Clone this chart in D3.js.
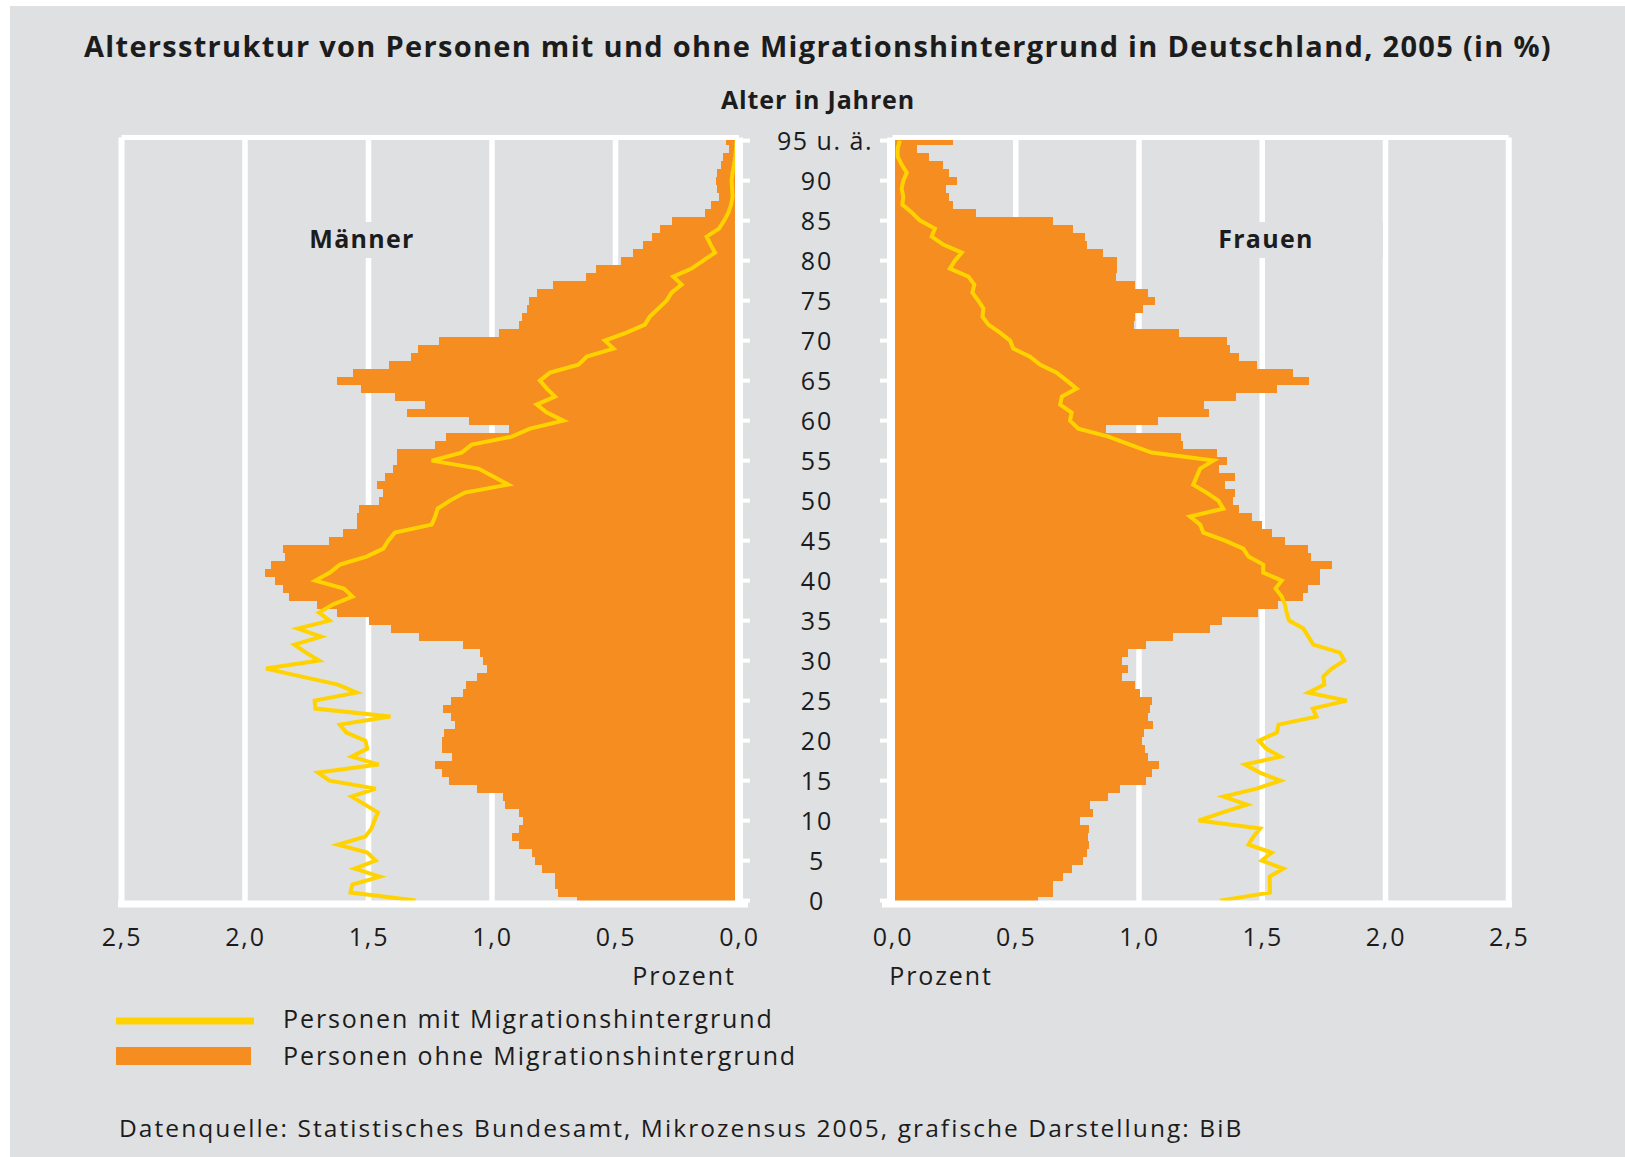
<!DOCTYPE html>
<html>
<head>
<meta charset="utf-8">
<script src="https://cdn.jsdelivr.net/npm/d3@7"></script>
<style>
    body { margin: 0; background: #ffffff; }
    svg text { font-family: "Open Sans", sans-serif; fill: #1c1c1c; }
</style>
</head>
<body>
<div id="chart"></div>
<script>
/* * * * * * * * * * * * * * * * * * *
*  ALTERSPYRAMIDE MIT/OHNE MIGRATION  *
* * * * * * * * * * * * * * * * * * */

// ages 0 .. 95 (95 = "95 u. ä."), values in percent
const ages = d3.range(0, 96);

const menOhne = [
    0.654, 0.734, 0.745, 0.745, 0.799, 0.824, 0.840, 0.890, 0.921, 0.890,
    0.874, 0.890, 0.948, 0.955, 1.061, 1.174, 1.204, 1.231, 1.160, 1.204,
    1.201, 1.195, 1.150, 1.164, 1.198, 1.164, 1.117, 1.106, 1.061, 1.020,
    1.036, 1.047, 1.119, 1.294, 1.409, 1.497, 1.629, 1.707, 1.821, 1.845,
    1.879, 1.919, 1.895, 1.838, 1.845, 1.659, 1.602, 1.548, 1.548, 1.538,
    1.457, 1.443, 1.464, 1.432, 1.401, 1.386, 1.386, 1.231, 1.188, 0.930,
    1.093, 1.346, 1.271, 1.393, 1.530, 1.628, 1.561, 1.417, 1.328, 1.301,
    1.213, 0.972, 0.889, 0.880, 0.860, 0.850, 0.816, 0.752, 0.621, 0.580,
    0.478, 0.428, 0.387, 0.354, 0.320, 0.270, 0.138, 0.113, 0.081, 0.088,
    0.094, 0.088, 0.073, 0.063, 0.040, 0.054
];

const menMit = [
    1.309, 1.573, 1.565, 1.454, 1.556, 1.471, 1.505, 1.624, 1.513, 1.488,
    1.476, 1.462, 1.514, 1.568, 1.471, 1.658, 1.704, 1.459, 1.568, 1.505,
    1.513, 1.590, 1.616, 1.411, 1.715, 1.718, 1.548, 1.624, 1.770, 1.915,
    1.700, 1.753, 1.800, 1.692, 1.786, 1.658, 1.700, 1.645, 1.565, 1.600,
    1.715, 1.656, 1.616, 1.508, 1.440, 1.420, 1.393, 1.244, 1.230, 1.220,
    1.170, 1.110, 0.934, 0.995, 1.055, 1.244, 1.123, 1.082, 0.920, 0.846,
    0.711, 0.778, 0.819, 0.745, 0.778, 0.806, 0.765, 0.650, 0.616, 0.508,
    0.543, 0.455, 0.381, 0.361, 0.327, 0.293, 0.273, 0.232, 0.266, 0.192,
    0.145, 0.097, 0.115, 0.131, 0.081, 0.060, 0.043, 0.032, 0.026, 0.028,
    0.030, 0.026, 0.020, 0.015, 0.012, 0.010
];

const womenOhne = [
    0.589, 0.652, 0.652, 0.693, 0.727, 0.774, 0.788, 0.797, 0.792, 0.797,
    0.761, 0.815, 0.801, 0.873, 0.923, 1.027, 1.051, 1.082, 1.035, 1.024,
    1.013, 1.022, 1.058, 1.038, 1.045, 1.051, 1.004, 0.984, 0.930, 0.954,
    0.930, 0.954, 1.027, 1.139, 1.288, 1.335, 1.481, 1.563, 1.667, 1.684,
    1.734, 1.734, 1.782, 1.698, 1.684, 1.592, 1.538, 1.498, 1.457, 1.407,
    1.382, 1.389, 1.349, 1.389, 1.326, 1.358, 1.318, 1.180, 1.171, 0.865,
    1.076, 1.284, 1.265, 1.393, 1.561, 1.691, 1.626, 1.480, 1.407, 1.369,
    1.358, 1.164, 0.981, 0.984, 1.018, 1.065, 1.035, 0.984, 0.905, 0.912,
    0.912, 0.855, 0.788, 0.781, 0.734, 0.653, 0.337, 0.247, 0.229, 0.216,
    0.263, 0.229, 0.206, 0.148, 0.101, 0.247
];

const womenMit = [
    1.329, 1.531, 1.531, 1.530, 1.585, 1.498, 1.538, 1.444, 1.464, 1.491,
    1.242, 1.336, 1.438, 1.343, 1.478, 1.574, 1.490, 1.430, 1.574, 1.516,
    1.486, 1.559, 1.566, 1.720, 1.705, 1.843, 1.687, 1.752, 1.748, 1.782,
    1.833, 1.815, 1.707, 1.687, 1.667, 1.609, 1.599, 1.592, 1.579, 1.554,
    1.579, 1.504, 1.504, 1.444, 1.423, 1.349, 1.261, 1.248, 1.207, 1.342,
    1.322, 1.274, 1.220, 1.234, 1.248, 1.302, 1.051, 0.963, 0.876, 0.754,
    0.720, 0.727, 0.680, 0.687, 0.747, 0.707, 0.666, 0.598, 0.558, 0.490,
    0.477, 0.436, 0.389, 0.365, 0.369, 0.348, 0.324, 0.332, 0.308, 0.233,
    0.253, 0.281, 0.206, 0.159, 0.172, 0.112, 0.078, 0.040, 0.044, 0.037,
    0.044, 0.058, 0.037, 0.021, 0.021, 0.030
];

const valueTicks = [0, 0.5, 1, 1.5, 2, 2.5];
const gridValues = [0.5, 1, 1.5, 2];
const ageTicks = d3.range(0, 96, 5);
const ageTickLabels = ageTicks.map(a => a === 95 ? "95 u. ä." : String(a));

const colors = { bg: "#dfe0e2", ohne: "#f58d20", mit: "#ffd200", grid: "#ffffff" };

// regular text settings (the original face is wide and loosely spaced)
const txt = { size: 25, spacing: 1.9 };

const de = d3.formatLocale({ decimal: ",", thousands: ".", grouping: [3], currency: ["", " €"] });
const fmt = de.format(".1f");

// shared age scale (one band per year, 95 at the top)
const y = d3.scaleBand()
    .domain(d3.range(95, -1, -1))
    .range([136.6, 904.6]);

const svg = d3.select("#chart")
    .append("svg")
    .attr("width", 1625)
    .attr("height", 1157);

svg.append("rect")
    .attr("x", 10).attr("y", 6)
    .attr("width", 1615).attr("height", 1151)
    .attr("fill", colors.bg);


class PyramidHalf {
    constructor(parent, config) {
        this.parent = parent;
        this.config = config;

        this.initVis();
    }

    initVis() {
        let vis = this;
        const c = vis.config;

        vis.top = 137.5;
        vis.bottom = 904;

        vis.x = d3.scaleLinear()
            .domain([0, 2.5])
            .range(c.range);

        vis.g = vis.parent.append("g")
            .attr("class", `half ${c.side}`);

        // white gridlines (behind the bars)
        vis.g.append("g")
            .attr("class", "grid")
            .selectAll("line")
            .data(gridValues)
            .join("line")
            .attr("x1", d => vis.x(d))
            .attr("x2", d => vis.x(d))
            .attr("y1", vis.top)
            .attr("y2", vis.bottom)
            .attr("stroke", colors.grid)
            .attr("stroke-width", 5.5);

        // panel label with a background patch over the grid
        vis.g.append("rect")
            .attr("x", c.labelBox[0])
            .attr("y", 222)
            .attr("width", c.labelBox[1] - c.labelBox[0])
            .attr("height", 36)
            .attr("fill", colors.bg);

        vis.g.append("text")
            .attr("x", c.labelX)
            .attr("y", 248)
            .attr("text-anchor", "middle")
            .attr("font-size", 25)
            .attr("font-weight", 700)
            .attr("letter-spacing", 1.3)
            .text(c.label);

        vis.updateVis();
    }

    updateVis() {
        let vis = this;
        const c = vis.config;
        const zero = vis.x(0);

        // bars: persons without migration background
        vis.g.append("g")
            .attr("class", "bars")
            .selectAll("rect")
            .data(ages)
            .join("rect")
            .attr("x", d => Math.min(zero, vis.x(c.ohne[d])))
            .attr("width", d => Math.abs(vis.x(c.ohne[d]) - zero))
            .attr("y", d => y(d))
            .attr("height", y.bandwidth())
            .attr("fill", colors.ohne)
            .attr("shape-rendering", "crispEdges");

        // line: persons with migration background
        const line = d3.line()
            .x(d => vis.x(c.mit[d]))
            .y(d => y(d) + y.bandwidth() / 2);

        vis.g.append("path")
            .datum(ages)
            .attr("class", "mit-line")
            .attr("d", line)
            .attr("fill", "none")
            .attr("stroke", colors.mit)
            .attr("stroke-width", 4)
            .attr("stroke-linejoin", "miter");

        // frame
        const far = vis.x(2.5);
        const frame = vis.g.append("g").attr("class", "frame")
            .attr("stroke", colors.grid);

        frame.append("line")
            .attr("x1", far).attr("x2", zero)
            .attr("y1", vis.top).attr("y2", vis.top)
            .attr("stroke-width", 5);

        frame.append("line")
            .attr("x1", far).attr("x2", far)
            .attr("y1", vis.top).attr("y2", vis.bottom)
            .attr("stroke-width", 6);

        frame.append("line")
            .attr("x1", c.bottomLine[0]).attr("x2", c.bottomLine[1])
            .attr("y1", vis.bottom).attr("y2", vis.bottom)
            .attr("stroke-width", 7);

        frame.append("line")
            .attr("x1", c.axisX).attr("x2", c.axisX)
            .attr("y1", vis.top).attr("y2", vis.bottom)
            .attr("stroke-width", 8);

        // age ticks pointing to the centre
        const ageAxis = (c.side === "left" ? d3.axisRight(y) : d3.axisLeft(y))
            .tickValues(ageTicks)
            .tickSize(11)
            .tickFormat("");

        vis.g.append("g")
            .attr("class", "age-ticks")
            .attr("transform", `translate(${c.axisX}, 0)`)
            .call(ageAxis)
            .call(g => g.select(".domain").remove())
            .selectAll("line")
            .attr("stroke", colors.grid)
            .attr("stroke-width", 4);

        // value axis labels
        vis.g.append("g")
            .attr("class", "value-axis")
            .attr("transform", "translate(0, 928)")
            .call(d3.axisBottom(vis.x).tickValues(valueTicks).tickFormat(fmt).tickSize(0).tickPadding(0))
            .attr("font-size", txt.size)
            .call(g => g.select(".domain").remove())
            .selectAll("text")
            .attr("dy", "0.71em")
            .attr("letter-spacing", txt.spacing);

        vis.g.append("text")
            .attr("x", c.prozentX)
            .attr("y", 985)
            .attr("text-anchor", "middle")
            .attr("font-size", txt.size)
            .attr("letter-spacing", txt.spacing)
            .text("Prozent");
    }
}

new PyramidHalf(svg, {
    side: "left",
    range: [739, 121.5],
    axisX: 739,
    bottomLine: [118, 748],
    ohne: menOhne,
    mit: menMit,
    label: "Männer",
    labelX: 362,
    labelBox: [300, 425],
    prozentX: 684
});

new PyramidHalf(svg, {
    side: "right",
    range: [892.5, 1508.75],
    axisX: 891,
    bottomLine: [882, 1512],
    ohne: womenOhne,
    mit: womenMit,
    label: "Frauen",
    labelX: 1266,
    labelBox: [1200, 1383],
    prozentX: 941
});

// age labels in the middle
svg.append("g")
    .attr("class", "age-labels")
    .selectAll("text")
    .data(ageTicks)
    .join("text")
    .attr("x", d => d === 95 ? 825 : 817)
    .attr("y", d => y(d) + y.bandwidth() / 2 + 9)
    .attr("text-anchor", "middle")
    .attr("font-size", txt.size)
    .attr("letter-spacing", d => d === 95 ? 1.5 : txt.spacing)
    .text((d, i) => ageTickLabels[i]);

// titles
svg.append("text")
    .attr("x", 818)
    .attr("y", 57)
    .attr("text-anchor", "middle")
    .attr("font-size", 29)
    .attr("font-weight", 700)
    .attr("letter-spacing", 1.3)
    .text("Altersstruktur von Personen mit und ohne Migrationshintergrund in Deutschland, 2005 (in %)");

svg.append("text")
    .attr("x", 818)
    .attr("y", 109)
    .attr("text-anchor", "middle")
    .attr("font-size", 25)
    .attr("font-weight", 700)
    .attr("letter-spacing", 0.85)
    .text("Alter in Jahren");

// legend
const legend = svg.append("g").attr("class", "legend");

legend.append("line")
    .attr("x1", 116).attr("x2", 254)
    .attr("y1", 1021).attr("y2", 1021)
    .attr("stroke", colors.mit)
    .attr("stroke-width", 7);

legend.append("rect")
    .attr("x", 116).attr("y", 1047)
    .attr("width", 135).attr("height", 18)
    .attr("fill", colors.ohne);

legend.append("text")
    .attr("x", 283).attr("y", 1028)
    .attr("font-size", txt.size)
    .attr("letter-spacing", txt.spacing)
    .text("Personen mit Migrationshintergrund");

legend.append("text")
    .attr("x", 283).attr("y", 1065)
    .attr("font-size", txt.size)
    .attr("letter-spacing", txt.spacing)
    .text("Personen ohne Migrationshintergrund");

// source
svg.append("text")
    .attr("x", 119).attr("y", 1137)
    .attr("font-size", 24.5)
    .attr("letter-spacing", 2.07)
    .text("Datenquelle: Statistisches Bundesamt, Mikrozensus 2005, grafische Darstellung: BiB");
</script>
</body>
</html>
